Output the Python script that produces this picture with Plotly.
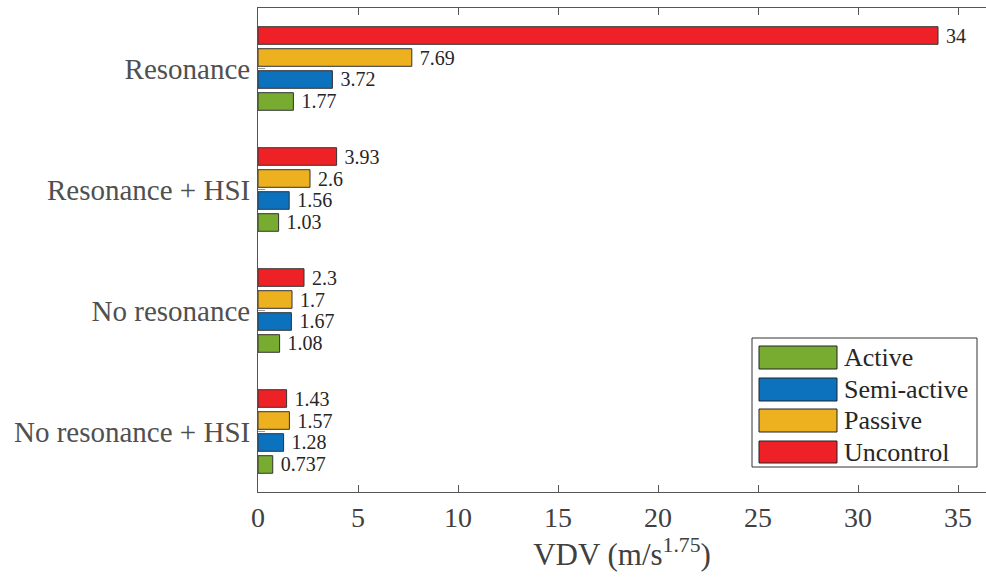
import plotly.graph_objects as go

categories = ["No resonance + HSI", "No resonance", "Resonance + HSI", "Resonance"]
series_names = ["Active", "Semi-active", "Passive", "Uncontrol"]
active = [0.737, 1.08, 1.03, 1.77]
semi_active = [1.28, 1.67, 1.56, 3.72]
passive = [1.57, 1.7, 2.6, 7.69]
uncontrol = [1.43, 2.3, 3.93, 34]
colors = ["#77AC30", "#0D72BD", "#EDB120", "#EE2226"]

FONT = "Liberation Serif"
W, H = 986, 580
L, R, T, B = 258, 0, 8, 88
PW, PH = W - L - R, H - T - B

fig = go.Figure()
for name, vals, col in zip(series_names, [active, semi_active, passive, uncontrol], colors):
    fig.add_trace(go.Bar(
        y=categories, x=vals, orientation="h", name=name,
        marker=dict(color=col, line=dict(color="#333333", width=1)),
        text=[f" {v:g}" for v in vals], textposition="outside",
        textfont=dict(family=FONT, size=20, color="#262626"),
        constraintext="none", cliponaxis=False, showlegend=False,
    ))

# custom legend (big swatches like the reference)
def px_x(x):
    return (x - L) / PW
def px_y(y):
    return (H - B - y) / PH

shapes = [dict(type="rect", xref="paper", yref="paper",
               x0=px_x(752), x1=px_x(977), y0=px_y(467), y1=px_y(338),
               line=dict(color="#333333", width=1), fillcolor="white", layer="above")]
annotations = []
sw = [(346, 369), (378, 401), (409, 432), (441, 463)]
for (y0, y1), name, col in zip(sw, series_names, colors):
    shapes.append(dict(type="rect", xref="paper", yref="paper",
                       x0=px_x(759), x1=px_x(837), y0=px_y(y1), y1=px_y(y0),
                       line=dict(color="#222222", width=1), fillcolor=col, layer="above"))
    annotations.append(dict(xref="paper", yref="paper", x=px_x(842), y=px_y((y0 + y1) / 2),
                            text=name, showarrow=False, xanchor="left", yanchor="middle",
                            font=dict(family=FONT, size=26, color="#262626")))

fig.update_layout(
    width=W, height=H,
    margin=dict(l=L, r=R, t=T, b=B, pad=0, autoexpand=False),
    paper_bgcolor="white", plot_bgcolor="white",
    barmode="group", bargap=0.273, bargroupgap=0.2,
    font=dict(family=FONT, color="#404040"),
    shapes=shapes, annotations=annotations,
    xaxis=dict(range=[0, 36.4], tickvals=[0, 5, 10, 15, 20, 25, 30, 35],
               ticks="inside", ticklen=7, tickcolor="#555555",
               showline=True, linecolor="#555555", linewidth=1, mirror="ticks",
               showgrid=False, zeroline=False, automargin=False,
               tickfont=dict(family=FONT, size=28, color="#404040"),
               title=dict(text="VDV (m/s<sup>1.75</sup>)", standoff=6,
                          font=dict(family=FONT, size=31, color="#404040"))),
    yaxis=dict(categoryorder="array", categoryarray=categories, range=[-0.5, 3.5],
               ticks="inside", ticklen=7, tickcolor="#999999",
               showline=True, linecolor="#555555", linewidth=1, mirror=False,
               showgrid=False, zeroline=False, ticklabelstandoff=1, automargin=False,
               tickfont=dict(family=FONT, size=29, color="#505050")),
)

fig.write_html("out.html", config={"displayModeBar": False},
               post_script="document.body.style.margin='0';document.body.style.overflow='hidden';")
